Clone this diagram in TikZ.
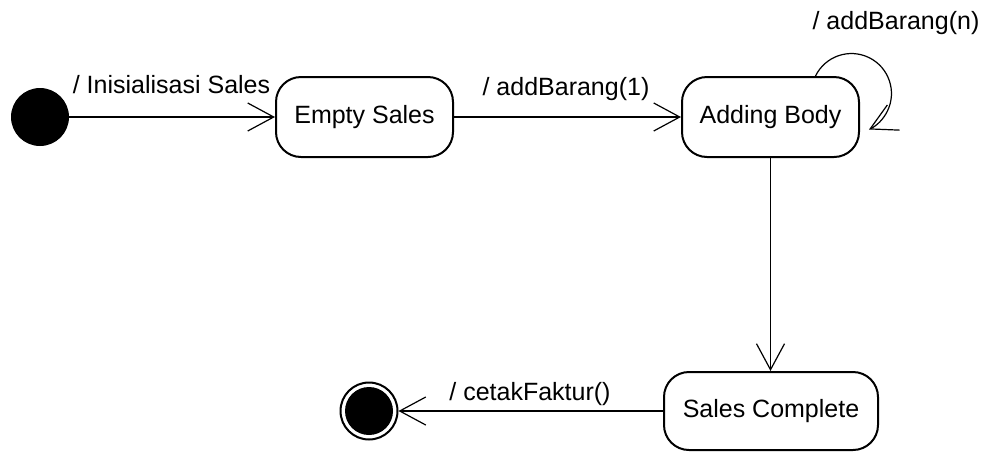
\documentclass[tikz,border=0pt]{standalone}
\usepackage{fontspec}
\setmainfont{Liberation Sans}
\usetikzlibrary{arrows.meta}
\begin{document}
\begin{tikzpicture}[x=1pt,y=-1pt,
  every node/.style={font=\fontsize{25}{30}\selectfont},
  statebox/.style={draw, line width=2pt, rounded corners=25pt, minimum height=80pt, inner sep=0pt},
  arr/.style={line width=1.2pt, -{Straight Barb[length=26pt,width=28pt,line width=1.2pt]}},
  lbl/.style={anchor=base, inner sep=0pt}]
  \useasboundingbox (0,0) rectangle (985,451);

  % states
  \node[circle, fill=black, minimum size=58pt, inner sep=0pt] (init) at (40,117) {};
  \node[statebox, minimum width=177pt] (es) at (364.5,117) {Empty Sales};
  \node[statebox, minimum width=177pt] (ab) at (770.5,117) {Adding Body};
  \node[statebox, minimum width=214pt, minimum height=78pt] (sc) at (771,411) {Sales Complete};
  \node[circle, draw, line width=2pt, minimum size=57pt, inner sep=0pt] (final) at (369,411) {};
  \fill (final.center) circle (24pt);

  % transitions
  \draw[arr] (init) -- (es);
  \draw[arr] (es) -- (ab);
  \path (ab.north) ++(45,0) coordinate (loopstart);
  \draw[arr] (loopstart) arc[start angle=154, end angle=-64, radius=40pt];
  \draw[arr] (ab.south) -- (ab.south |- sc.north);
  \draw[arr] (sc) -- (final);

  % transition labels
  \node[lbl] (l1) at (171.5,93) {/ Inisialisasi Sales};
  \node[lbl] (l2) at (566,95) {/ addBarang(1)};
  \node[lbl] (l3) at (896,29) {/ addBarang(n)};
  \node[lbl] (l4) at (530,400) {/ cetakFaktur()};
\end{tikzpicture}
\end{document}
